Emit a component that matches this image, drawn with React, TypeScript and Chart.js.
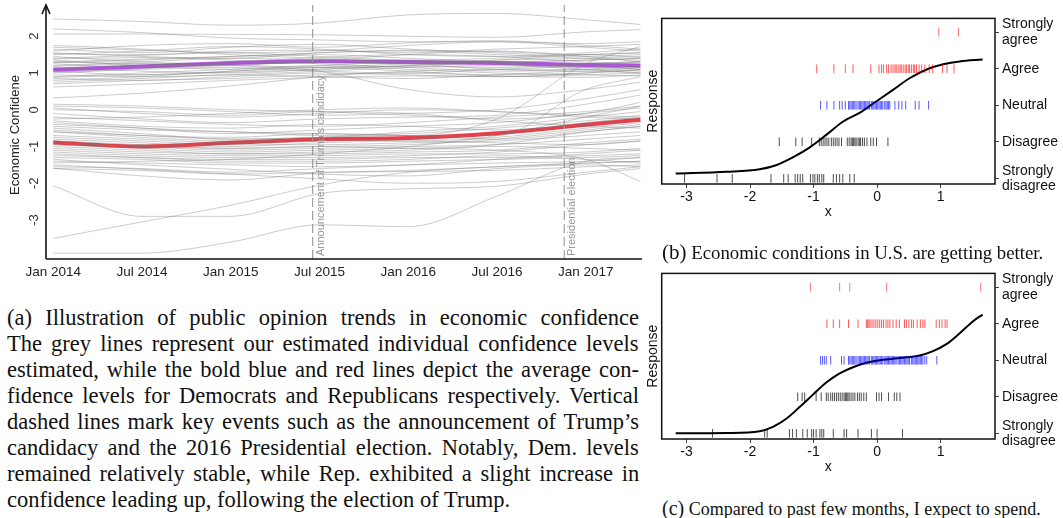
import React, { useEffect, useLayoutEffect, useRef } from "react";
import { Chart, registerables } from "chart.js";
Chart.register(...registerables);
Chart.defaults.font.family = '"Liberation Sans", Arial, sans-serif';

// ---------- Panel (a) data ----------
const MONTHS = [0, 6, 12, 18, 24, 30, 36, 39.7]; // months since Jan 2014
const X_TICKS = [0, 6, 12, 18, 24, 30, 36];
const X_TICK_LABELS = ["Jan 2014", "Jul 2014", "Jan 2015", "Jul 2015", "Jan 2016", "Jul 2016", "Jan 2017"];
const Y_TICKS = [-3, -2, -1, 0, 1, 2];
const DEM_MEAN = [1.09, 1.18, 1.27, 1.32, 1.3, 1.27, 1.22, 1.2];
const REP_MEAN = [-0.89, -1.0, -0.9, -0.8, -0.77, -0.64, -0.41, -0.27];
const EVENTS = [17.54, 34.55];
const EVENT_LABELS = ["Announcement of Trump's candidacy", "Presidential election"];

const DEM_LINES = [
  [2.47, 2.4, 2.3, 2.36, 2.58, 2.62, 2.45, 2.32],
  [2.06, 2.06, 2.05, 2.04, 2.0, 1.97, 2.12, 2.18],
  [2.2, 2.1, 1.95, 1.9, 1.85, 1.85, 1.8, 1.85],
  [1.7, 1.62, 1.55, 1.6, 1.75, 1.85, 1.7, 1.6],
  [1.65, 1.55, 1.7, 1.78, 1.65, 1.55, 1.45, 1.5],
  [1.55, 1.45, 1.4, 1.55, 1.6, 1.5, 1.4, 1.35],
  [1.5, 1.6, 1.72, 1.65, 1.5, 1.45, 1.55, 1.65],
  [1.45, 1.3, 1.25, 1.35, 1.5, 1.6, 1.45, 1.3],
  [1.4, 1.48, 1.55, 1.45, 1.35, 1.4, 1.5, 1.42],
  [1.35, 1.2, 1.1, 1.2, 1.3, 1.25, 1.15, 1.1],
  [1.3, 1.38, 1.45, 1.5, 1.4, 1.3, 1.25, 1.3],
  [1.25, 1.15, 1.2, 1.3, 1.25, 1.1, 1.05, 1.15],
  [1.2, 1.3, 1.4, 1.35, 1.25, 1.35, 1.4, 1.45],
  [1.15, 1.05, 1.0, 1.1, 1.2, 1.3, 1.2, 1.1],
  [1.1, 1.2, 1.3, 1.42, 1.5, 1.45, 1.3, 1.25],
  [1.05, 0.95, 1.05, 1.15, 1.05, 0.95, 1.0, 1.08],
  [1.0, 1.1, 1.15, 1.05, 1.0, 1.1, 1.2, 1.3],
  [0.95, 0.9, 0.95, 1.05, 1.15, 1.2, 1.1, 1.0],
  [0.9, 1.0, 1.1, 1.2, 1.1, 1.0, 0.95, 0.92],
  [0.85, 0.8, 0.9, 1.0, 0.95, 0.9, 1.0, 1.1],
  [0.8, 0.9, 1.05, 1.15, 1.25, 1.3, 1.35, 1.4],
  [0.75, 0.85, 0.95, 0.9, 0.85, 0.95, 1.05, 1.0],
  [0.7, 0.8, 0.85, 0.95, 1.0, 0.92, 0.88, 0.95],
  [0.62, 0.7, 0.8, 0.88, 0.92, 0.9, 0.95, 1.0],
  [0.32, 0.45, 0.65, 0.9, 1.05, 1.1, 1.1, 1.05],
  [1.6, 1.75, 1.8, 1.7, 1.82, 1.88, 1.75, 1.65],
  [1.75, 1.65, 1.5, 1.4, 1.3, 1.35, 1.5, 1.55],
  [1.38, 1.42, 1.35, 1.25, 1.15, 1.05, 1.1, 1.2],
  [1.18, 1.25, 1.22, 1.15, 1.2, 1.28, 1.35, 1.4],
  [1.02, 1.12, 1.25, 1.3, 1.35, 1.25, 1.15, 1.18],
  [1.3, 1.25, 1.2, 1.05, 0.55, 0.35, 0.55, 0.75],
  [1.28, 1.35, 1.45, 1.55, 1.62, 1.58, 1.5, 1.55],
  [0.88, 0.95, 1.02, 1.1, 1.18, 1.15, 1.25, 1.32],
  [1.52, 1.5, 1.6, 1.62, 1.55, 1.65, 1.72, 1.78],
];

const REP_LINES = [
  [0.1, 0.05, -0.05, -0.15, -0.1, 0.0, 0.3, 0.55],
  [0.05, -0.1, -0.2, -0.1, 0.0, -0.05, -0.2, -0.25],
  [0.0, -0.05, -0.15, -0.05, -0.1, -0.3, -0.45, -0.5],
  [-0.1, -0.25, -0.35, -0.25, -0.2, -0.15, 0.15, 0.4],
  [-0.2, -0.3, -0.4, -0.45, -0.35, -0.2, -0.05, 0.1],
  [-0.3, -0.45, -0.5, -0.4, -0.45, -0.55, -0.4, -0.3],
  [-0.35, -0.5, -0.65, -0.55, -0.45, -0.35, -0.1, 0.05],
  [-0.45, -0.55, -0.6, -0.7, -0.65, -0.5, -0.3, -0.15],
  [-0.5, -0.65, -0.8, -0.75, -0.6, -0.45, -0.2, -0.05],
  [-0.55, -0.7, -0.75, -0.65, -0.7, -0.8, -0.6, -0.45],
  [-0.6, -0.75, -0.85, -0.8, -0.85, -0.75, -0.5, -0.35],
  [-0.7, -0.8, -0.9, -0.85, -0.8, -0.65, -0.35, -0.2],
  [-0.75, -0.85, -0.95, -0.95, -0.9, -0.85, -0.7, -0.6],
  [-0.8, -0.9, -1.0, -0.9, -0.85, -0.9, -0.95, -0.85],
  [-0.85, -0.95, -1.05, -1.0, -0.95, -0.8, -0.55, -0.4],
  [-0.9, -1.0, -1.1, -1.05, -1.0, -0.95, -0.8, -0.7],
  [-0.95, -1.05, -1.15, -1.1, -1.05, -1.0, -1.05, -1.1],
  [-1.0, -1.1, -1.2, -1.15, -1.1, -0.95, -0.6, -0.45],
  [-1.05, -1.15, -1.2, -1.2, -1.15, -1.1, -0.9, -0.8],
  [-1.1, -1.2, -1.25, -1.25, -1.2, -1.2, -1.15, -1.05],
  [-1.15, -1.25, -1.3, -1.3, -1.25, -1.15, -0.95, -0.85],
  [-1.2, -1.3, -1.35, -1.35, -1.3, -1.3, -1.25, -1.2],
  [-1.25, -1.3, -1.4, -1.4, -1.35, -1.25, -1.35, -1.45],
  [-1.3, -1.35, -1.45, -1.45, -1.4, -1.35, -1.3, -1.25],
  [-1.4, -1.45, -1.5, -1.55, -1.5, -1.45, -1.4, -1.3],
  [-1.45, -1.4, -1.35, -1.2, -1.0, -0.7, -0.2, 0.1],
  [-1.55, -1.6, -1.7, -1.6, -1.5, -1.35, -1.2, -1.1],
  [-0.4, -0.5, -0.6, -0.65, -0.7, -0.25, 1.25, 1.72],
  [-0.6, -0.7, -0.8, -0.75, -0.7, -0.7, 0.55, 0.9],
  [-0.9, -1.0, -1.05, -1.0, -1.05, -1.1, -1.35, -1.95],
  [-0.25, -0.2, -0.1, 0.0, 0.05, -0.05, -0.15, -0.2],
  [0.15, 0.1, 0.0, -0.05, -0.15, -0.25, -0.1, 0.2],
  [-1.6, -1.65, -1.75, -1.7, -1.65, -1.55, -1.45, -1.4],
  [-1.35, -1.5, -1.62, -1.75, -1.8, -1.6, -1.5, -1.55],
];

const LOW_LINES = [
  [-2.07, -2.9, -2.9, -2.28, -2.15, -2.08, -1.75, -1.6],
  [-3.5, -3.05, -2.6, -2.05, -1.7, -1.55, -1.45, -1.4],
  [-3.9, -3.9, -3.6, -3.13, -3.18, -2.35, -1.4, -1.3],
  [-1.59, -1.8, -1.91, -1.72, -1.68, -1.65, -1.55, -1.5],
  [-1.5, -1.62, -1.75, -1.88, -2.0, -1.95, -1.7, -1.55],
];

// ---------- Panels (b) and (c) data ----------
const LIKERT_LABELS = [["Strongly", "disagree"], "Disagree", "Neutral", "Agree", ["Strongly", "agree"]];
const X_LIKERT_TICKS = [-3, -2, -1, 0, 1];

const B_SA = [0.97, 1.28];
const B_A = [-0.95, -0.68, -0.5, -0.38, -0.1, 0.03, 0.07, 0.1, 0.15, 0.18, 0.22, 0.25, 0.28, 0.3, 0.33, 0.36, 0.38, 0.41, 0.44, 0.46, 0.49, 0.51, 0.54, 0.57, 0.59, 0.62, 0.66, 0.7, 0.75, 0.82, 0.87, 1.03, 1.1, 1.21];
const B_N = [-0.89, -0.79, -0.68, -0.59, -0.55, -0.5, -0.45, -0.43, -0.41, -0.39, -0.37, -0.35, -0.33, -0.3, -0.28, -0.26, -0.24, -0.22, -0.2, -0.18, -0.16, -0.14, -0.12, -0.09, -0.07, -0.05, -0.03, -0.01, 0.01, 0.03, 0.05, 0.07, 0.09, 0.12, 0.14, 0.16, 0.18, 0.2, 0.28, 0.34, 0.39, 0.45, 0.6, 0.66, 0.81];
const B_D = [-1.54, -1.28, -1.18, -1.03, -0.91, -0.88, -0.85, -0.82, -0.79, -0.76, -0.72, -0.69, -0.66, -0.63, -0.6, -0.56, -0.47, -0.44, -0.41, -0.39, -0.37, -0.35, -0.33, -0.3, -0.28, -0.26, -0.23, -0.2, -0.16, -0.1, -0.06, -0.01, 0.17];
const B_SD = [-3.03, -2.52, -2.28, -1.67, -1.47, -1.4, -1.29, -1.25, -1.21, -1.17, -1.05, -1.01, -0.98, -0.94, -0.91, -0.87, -0.84, -0.69, -0.64, -0.59, -0.54, -0.43, -0.36];
const B_CURVE_X = [-3.17, -2.37, -1.85, -1.59, -1.32, -1.06, -0.8, -0.54, -0.27, -0.01, 0.25, 0.51, 0.78, 1.04, 1.3, 1.66];
const B_CURVE_Y = [0.13, 0.18, 0.25, 0.36, 0.58, 0.85, 1.19, 1.55, 1.8, 2.11, 2.42, 2.74, 2.98, 3.12, 3.2, 3.25];

const C_SA = [-1.05, -0.59, -0.43, 0.15, 1.63];
const C_A = [-0.79, -0.69, -0.59, -0.45, -0.3, -0.17, -0.15, -0.13, -0.11, -0.08, -0.05, -0.02, 0.01, 0.04, 0.07, 0.1, 0.14, 0.17, 0.2, 0.25, 0.3, 0.35, 0.43, 0.46, 0.5, 0.54, 0.57, 0.63, 0.68, 0.72, 0.75, 0.93, 0.98, 1.02, 1.07, 1.1];
const C_N = [-0.89, -0.86, -0.83, -0.8, -0.73, -0.56, -0.52, -0.45, -0.43, -0.41, -0.39, -0.37, -0.35, -0.33, -0.3, -0.28, -0.26, -0.24, -0.22, -0.2, -0.18, -0.16, -0.14, -0.12, -0.09, -0.07, -0.05, -0.03, -0.01, 0.01, 0.03, 0.05, 0.07, 0.09, 0.12, 0.14, 0.16, 0.18, 0.2, 0.22, 0.24, 0.26, 0.28, 0.3, 0.33, 0.35, 0.37, 0.39, 0.41, 0.43, 0.45, 0.47, 0.49, 0.51, 0.54, 0.56, 0.58, 0.6, 0.62, 0.64, 0.66, 0.68, 0.7, 0.72, 0.75, 0.78, 0.94];
const C_D = [-1.25, -1.18, -1.14, -0.96, -0.88, -0.8, -0.77, -0.73, -0.7, -0.67, -0.64, -0.61, -0.58, -0.55, -0.52, -0.5, -0.48, -0.46, -0.44, -0.41, -0.38, -0.35, -0.31, -0.28, -0.25, -0.21, -0.17, -0.01, 0.03, 0.07, 0.18, 0.27, 0.31, 0.36];
const C_SD = [-2.59, -1.77, -1.73, -1.38, -1.33, -1.27, -1.17, -1.1, -1.03, -1.0, -0.96, -0.9, -0.87, -0.84, -0.69, -0.52, -0.48, -0.3, -0.09, 0.0, 0.4];
const C_CURVE_X = [-3.17, -2.37, -1.85, -1.64, -1.43, -1.22, -1.01, -0.8, -0.59, -0.38, -0.17, 0.04, 0.25, 0.46, 0.67, 0.88, 1.09, 1.3, 1.51, 1.66];
const C_CURVE_Y = [0.0, 0.01, 0.06, 0.18, 0.4, 0.72, 1.06, 1.39, 1.64, 1.81, 1.93, 2.0, 2.04, 2.08, 2.13, 2.25, 2.44, 2.74, 3.07, 3.25];

const GREY = "rgba(120,120,120,0.38)";
const PURPLE = "rgb(180,82,228)";
const RED = "rgb(234,60,70)";

const toPts = (vals: number[]) => MONTHS.map((m, i) => ({ x: m, y: vals[i] }));

function leftConfig(): any {
  const greyLines = [...DEM_LINES, ...REP_LINES, ...LOW_LINES].map((v) => ({
    data: toPts(v),
    borderColor: GREY,
    borderWidth: 1,
    pointRadius: 0,
    cubicInterpolationMode: "monotone",
  }));
  const eventLines = EVENTS.map((e) => ({
    data: [{ x: e, y: -4.06 }, { x: e, y: 2.85 }],
    borderColor: "#a0a0a0",
    borderWidth: 1.2,
    borderDash: [9, 4],
    pointRadius: 0,
  }));
  const decor = {
    id: "leftDecor",
    afterDatasetsDraw(chart: any) {
      const { ctx, chartArea: a, scales } = chart;
      const x = scales.x, y = scales.y;
      ctx.save();
      ctx.font = '11px "Liberation Sans", Arial, sans-serif';
      ctx.fillStyle = "#999";
      EVENTS.forEach((m, i) => {
        const px = x.getPixelForValue(m);
        ctx.save();
        ctx.translate(px + 8, a.bottom - 3);
        ctx.rotate(-Math.PI / 2);
        ctx.textAlign = "left";
        ctx.textBaseline = "middle";
        ctx.fillText(EVENT_LABELS[i], 0, 0);
        ctx.restore();
      });
      ctx.strokeStyle = "#111";
      ctx.lineWidth = 1.6;
      ctx.beginPath();
      ctx.moveTo(a.left, a.bottom);
      ctx.lineTo(a.right + 1, a.bottom);
      ctx.moveTo(a.left, a.bottom);
      ctx.lineTo(a.left, a.top);
      ctx.stroke();
      ctx.beginPath();
      ctx.moveTo(a.left - 4, a.top + 9);
      ctx.lineTo(a.left, a.top);
      ctx.lineTo(a.left + 4, a.top + 9);
      ctx.stroke();
      ctx.font = '13px "Liberation Sans", Arial, sans-serif';
      ctx.fillStyle = "#333";
      Y_TICKS.forEach((v) => {
        const py = y.getPixelForValue(v);
        ctx.save();
        ctx.translate(34, py);
        ctx.rotate(-Math.PI / 2);
        ctx.textAlign = "center";
        ctx.textBaseline = "middle";
        ctx.fillText(String(v), 0, 0);
        ctx.restore();
      });
      ctx.save();
      ctx.translate(15, 135);
      ctx.rotate(-Math.PI / 2);
      ctx.textAlign = "center";
      ctx.textBaseline = "middle";
      ctx.fillStyle = "#222";
      ctx.fillText("Economic Confidene", 0, 0);
      ctx.restore();
      ctx.restore();
    },
  };
  return {
    type: "line",
    data: {
      datasets: [
        ...greyLines,
        ...eventLines,
        { data: toPts(DEM_MEAN), borderColor: PURPLE, borderWidth: 4, pointRadius: 0, cubicInterpolationMode: "monotone" },
        { data: toPts(REP_MEAN), borderColor: RED, borderWidth: 4, pointRadius: 0, cubicInterpolationMode: "monotone" },
      ],
    },
    options: {
      responsive: false,
      animation: false,
      layout: { padding: { top: 5, right: 4, left: 0, bottom: 0 } },
      plugins: { legend: { display: false }, tooltip: { enabled: false } },
      scales: {
        x: {
          type: "linear",
          min: -0.49,
          max: 39.74,
          afterBuildTicks: (s: any) => { s.ticks = X_TICKS.map((v) => ({ value: v })); },
          afterFit: (s: any) => { s.height = 31; },
          ticks: {
            autoSkip: false,
            maxRotation: 0,
            padding: 5,
            color: "#222",
            font: { size: 13.5 },
            callback: (v: number) => X_TICK_LABELS[X_TICKS.indexOf(v)] ?? "",
          },
          grid: { display: false, drawTicks: false },
          border: { display: false },
        },
        y: {
          type: "linear",
          min: -4.06,
          max: 2.85,
          afterBuildTicks: (s: any) => { s.ticks = Y_TICKS.map((v) => ({ value: v })); },
          afterFit: (s: any) => { s.width = 46; },
          ticks: { display: false },
          grid: { display: false, drawTicks: false },
          border: { display: false },
        },
      },
    },
    plugins: [decor],
  };
}

function likertConfig(rug: number[][], cx: number[], cy: number[]): any {
  const colors = ["rgba(0,0,0,0.7)", "rgba(0,0,0,0.7)", "rgba(0,0,255,0.65)", "rgba(255,0,0,0.65)", "rgba(255,0,0,0.55)"];
  const rugSets = rug.map((vals, k) => ({
    type: "scatter",
    data: vals.map((v) => ({ x: v, y: k })),
    pointStyle: "line",
    rotation: 90,
    pointRadius: 4.3,
    pointHoverRadius: 4.3,
    borderWidth: 1,
    borderColor: colors[k],
    backgroundColor: colors[k],
  }));
  const box = {
    id: "box",
    afterDraw(chart: any) {
      const { ctx, chartArea: a } = chart;
      ctx.save();
      ctx.strokeStyle = "#111";
      ctx.lineWidth = 1.5;
      ctx.strokeRect(a.left, a.top, a.right - a.left, a.bottom - a.top);
      ctx.restore();
    },
  };
  return {
    type: "scatter",
    data: {
      datasets: [
        ...rugSets,
        {
          type: "line",
          data: cx.map((x, i) => ({ x, y: cy[i] })),
          borderColor: "#000",
          borderWidth: 2,
          pointRadius: 0,
          cubicInterpolationMode: "monotone",
          fill: false,
        },
      ],
    },
    options: {
      responsive: false,
      animation: false,
      layout: { padding: 0 },
      plugins: { legend: { display: false }, tooltip: { enabled: false } },
      scales: {
        x: {
          type: "linear",
          min: -3.39,
          max: 1.855,
          afterBuildTicks: (s: any) => { s.ticks = X_LIKERT_TICKS.map((v) => ({ value: v })); },
          afterFit: (s: any) => { s.height = 44; },
          ticks: { padding: 1, color: "#111", font: { size: 14 }, maxRotation: 0, autoSkip: false },
          grid: { drawOnChartArea: false, drawTicks: true, tickLength: 4, color: "#444" },
          border: { display: false },
          title: { display: true, text: "x", color: "#111", font: { size: 14 }, padding: { top: 0, bottom: 7 } },
        },
        y: {
          type: "linear",
          position: "right",
          min: -0.154,
          max: 4.377,
          afterBuildTicks: (s: any) => { s.ticks = [0, 1, 2, 3, 4].map((v) => ({ value: v })); },
          afterFit: (s: any) => { s.width = 68; },
          ticks: {
            padding: 3,
            color: "#111",
            font: { size: 14, lineHeight: 1.1 },
            callback: (v: number) => LIKERT_LABELS[v] ?? "",
          },
          grid: { drawOnChartArea: false, drawTicks: true, tickLength: 4, color: "#444" },
          border: { display: false },
        },
        yL: {
          type: "linear",
          position: "left",
          min: 0,
          max: 1,
          afterFit: (s: any) => { s.width = 16.7; },
          ticks: { display: false },
          grid: { display: false, drawTicks: false },
          border: { display: false },
          title: { display: true, text: "Response", color: "#111", font: { size: 14 }, padding: 0 },
        },
      },
    },
    plugins: [box],
  };
}

function ChartCanvas({ config, left, top, width, height }: any) {
  const ref = useRef<HTMLCanvasElement>(null);
  useEffect(() => {
    const chart = new Chart(ref.current as HTMLCanvasElement, config());
    return () => chart.destroy();
  }, []);
  return (
    <canvas
      ref={ref}
      width={width}
      height={height}
      style={{ position: "absolute", left, top, width, height }}
    />
  );
}

const CAPTION_A = [
  "(a) Illustration of public opinion trends in economic confidence",
  "The grey lines represent our estimated individual confidence levels",
  "estimated, while the bold blue and red lines depict the average con-",
  "fidence levels for Democrats and Republicans respectively. Vertical",
  "dashed lines mark key events such as the announcement of Trump\u2019s",
  "candidacy and the 2016 Presidential election. Notably, Dem. levels",
  "remained relatively stable, while Rep. exhibited a slight increase in",
];
const CAPTION_A_LAST = "confidence leading up, following the election of Trump.";
const CAPTION_WIDTH = 632;

// a line of caption text, justified to the full width by adjusting word spacing
function JustLine({ text, justify }: { text: string; justify: boolean }) {
  const ref = useRef<HTMLSpanElement>(null);
  useLayoutEffect(() => {
    const el = ref.current;
    if (!el || !justify) return;
    el.style.wordSpacing = "0px";
    const w = el.offsetWidth;
    const spaces = (text.match(/ /g) || []).length;
    if (spaces) el.style.wordSpacing = `${(CAPTION_WIDTH - w) / spaces}px`;
  }, [text, justify]);
  return (
    <div style={{ whiteSpace: "nowrap", height: 26 }}>
      <span ref={ref} style={{ whiteSpace: "nowrap", display: "inline-block" }}>{text}</span>
    </div>
  );
}

export default function App() {
  const serif = '"Liberation Serif", "Times New Roman", serif';
  return (
    <div style={{ position: "absolute", left: 0, top: 0, width: 1063, height: 518, background: "#fff", overflow: "hidden" }}>
      <ChartCanvas config={leftConfig} left={0} top={0} width={645} height={290} />
      <ChartCanvas config={() => likertConfig([B_SD, B_D, B_N, B_A, B_SA], B_CURVE_X, B_CURVE_Y)} left={645} top={0} width={418} height={228} />
      <ChartCanvas config={() => likertConfig([C_SD, C_D, C_N, C_A, C_SA], C_CURVE_X, C_CURVE_Y)} left={645} top={255} width={418} height={228} />
      <div
        style={{
          position: "absolute",
          left: 7,
          top: 305,
          width: CAPTION_WIDTH,
          fontFamily: serif,
          fontSize: 22.5,
          lineHeight: "26px",
          color: "#111",
        }}
      >
        {CAPTION_A.map((l, i) => (
          <JustLine key={i} text={l} justify={true} />
        ))}
        <JustLine text={CAPTION_A_LAST} justify={false} />
      </div>
      <div style={{ position: "absolute", left: 662, top: 240, fontFamily: serif, fontSize: 18.8, lineHeight: "24px", color: "#111", whiteSpace: "nowrap" }}>
        <span style={{ fontSize: 21 }}>(b)</span> Economic conditions in U.S. are getting better.
      </div>
      <div style={{ position: "absolute", left: 662, top: 496, fontFamily: serif, fontSize: 18, lineHeight: "24px", color: "#111", whiteSpace: "nowrap" }}>
        <span style={{ fontSize: 20 }}>(c)</span> Compared to past few months, I expect to spend.
      </div>
    </div>
  );
}
